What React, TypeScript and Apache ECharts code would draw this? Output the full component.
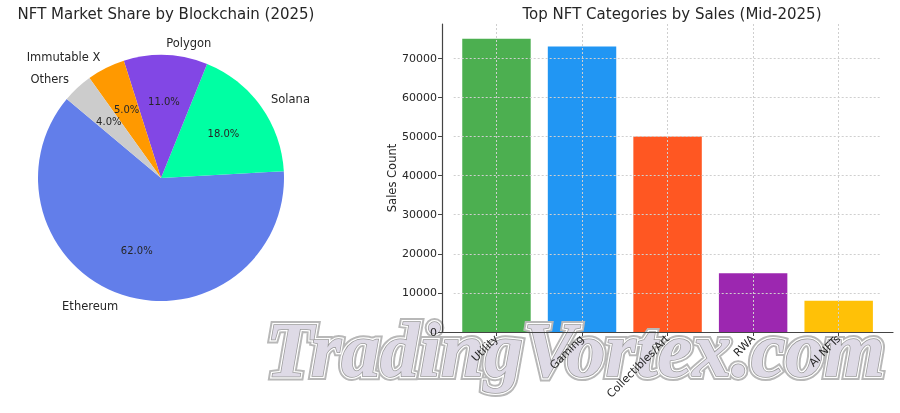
import React, { useEffect, useRef } from "react";
import * as echarts from "echarts";

// Pie data
const chains = ["Ethereum", "Solana", "Polygon", "Immutable X", "Others"];
const shares = [62, 18, 11, 5, 4];
const chainColors = ["#627EEA", "#00FFA3", "#8247E5", "#FF9900", "#CCCCCC"];

// Bar data
const categories = ["Utility", "Gaming", "Collectibles/Art", "RWA", "AI NFTs"];
const sales = [75000, 73000, 50000, 15000, 8000];
const catColors = ["#4CAF50", "#2196F3", "#FF5722", "#9C27B0", "#FFC107"];
const yMax = 78750;
const yStep = 10000;

const FONT = "DejaVu Sans";
const TXT = "#262626";

export default function App() {
  const ref = useRef<HTMLDivElement>(null);
  useEffect(() => {
    document.body.style.margin = "0";
    const chart = echarts.init(ref.current!, null, { renderer: "svg" });
    const R = 123;
    const pieData = chains.map((n, i) => ({ name: n, value: shares[i], itemStyle: { color: chainColors[i] } }));
    const wmFont = 'italic bold 78px "Liberation Serif"';
    const wmText = "TradingVortex.com";
    const wx = 266, wy = 310;
    chart.setOption({
      animation: false,
      textStyle: { fontFamily: FONT },
      title: [
        { text: "NFT Market Share by Blockchain (2025)", left: 161, top: 1, textAlign: "center",
          textStyle: { fontSize: 15, fontWeight: "normal", color: TXT, fontFamily: FONT } },
        { text: "Top NFT Categories by Sales (Mid-2025)", left: 667, top: 1, textAlign: "center",
          textStyle: { fontSize: 15, fontWeight: "normal", color: TXT, fontFamily: FONT } },
      ],
      graphic: [
        { type: "text", z: 4, x: wx, y: wy, silent: true, style: { text: wmText, font: wmFont, fill: "#ffffff", stroke: "#b8b8b8", lineWidth: 8 } },
        { type: "text", z: 5, x: wx, y: wy, silent: true, style: { text: wmText, font: wmFont, fill: "#ffffff", stroke: "#ffffff", lineWidth: 4 } },
        { type: "text", z: 6, x: wx, y: wy, silent: true, style: { text: wmText, font: wmFont, fill: "#dedae6", stroke: "#9a9a9a", lineWidth: 1.5 } },
      ],
      grid: [
        { left: 453.7, top: 24, width: 427.75, height: 308, containLabel: false },
        { left: 442, top: 24, width: 451, height: 308, containLabel: false },
      ],
      xAxis: [
        {
          type: "category", gridIndex: 0, data: categories, z: 10,
          axisLine: { show: false },
          axisTick: { show: true, alignWithLabel: true, length: 4, lineStyle: { color: "#444" } },
          axisLabel: { rotate: 45, fontSize: 11, color: TXT, margin: 5, fontFamily: FONT, interval: 0 },
          splitLine: { show: true, alignWithLabel: true, lineStyle: { color: "#cfcfcf", type: [2, 2], width: 1 } } as any,
        },
        {
          type: "value", gridIndex: 1, min: 0, max: 1, z: 10,
          axisLine: { show: true, lineStyle: { color: "#444", width: 1.2 } },
          axisTick: { show: false }, axisLabel: { show: false }, splitLine: { show: false },
        },
      ],
      yAxis: [
        {
          type: "value", gridIndex: 0, min: 0, max: yMax, interval: yStep, offset: 11.7, z: 10,
          axisLine: { show: true, lineStyle: { color: "#444", width: 1.2 } },
          axisTick: { show: true, length: 4, lineStyle: { color: "#444" } },
          axisLabel: { fontSize: 11, color: TXT, margin: 5, showMaxLabel: false, fontFamily: FONT, formatter: (v: number) => String(v) },
          splitLine: { show: true, showMaxLine: false, lineStyle: { color: "#cfcfcf", type: [2, 2], width: 1 } },
          name: "Sales Count", nameLocation: "middle", nameGap: 44,
          nameTextStyle: { fontSize: 11.5, color: TXT, fontFamily: FONT },
        },
        { type: "value", gridIndex: 1, min: 0, max: 1, show: false },
      ],
      series: [
        {
          type: "pie", center: [161, 178], radius: R, startAngle: 140, clockwise: false,
          avoidLabelOverlap: false, silent: true,
          data: pieData,
          label: { show: true, position: "outside", formatter: "{b}", fontSize: 11.5, color: TXT, fontFamily: FONT, distanceToLabelLine: 0 },
          labelLine: { show: false, length: R * 0.1, length2: 0 },
          emphasis: { disabled: true },
        },
        {
          type: "pie", center: [161, 178], radius: R * 1.2, startAngle: 140, clockwise: false,
          avoidLabelOverlap: false, silent: true,
          data: chains.map((n, i) => ({ name: n, value: shares[i] })),
          itemStyle: { color: "rgba(0,0,0,0)", borderWidth: 0 },
          label: { show: true, position: "inside", formatter: (p: any) => p.value.toFixed(1) + "%", fontSize: 10, color: TXT, fontFamily: FONT },
          labelLine: { show: false },
          emphasis: { disabled: true },
        },
        {
          type: "bar", xAxisIndex: 0, yAxisIndex: 0, barWidth: "80%",
          data: sales.map((v, i) => ({ value: v, itemStyle: { color: catColors[i] } })),
          emphasis: { disabled: true },
        },
      ],
    });
    return () => chart.dispose();
  }, []);
  return <div ref={ref} style={{ width: 900, height: 413, position: "fixed", left: 0, top: 0 }} />;
}
